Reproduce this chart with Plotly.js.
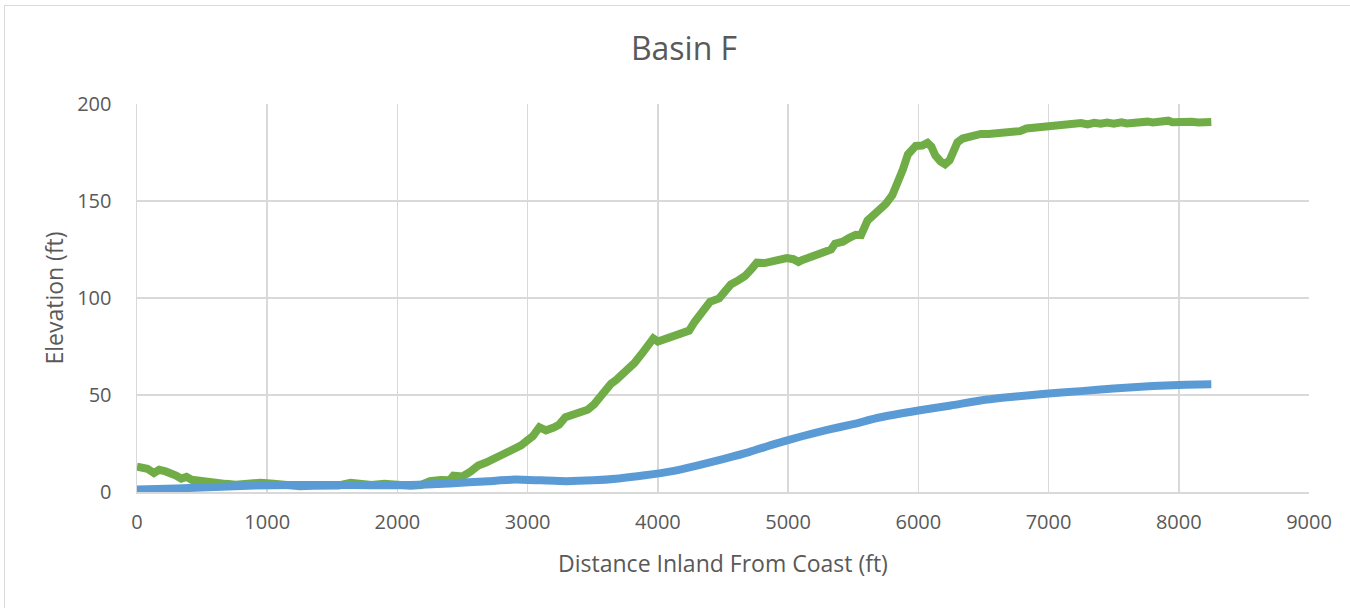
<!DOCTYPE html>
<html>
<head>
<meta charset="utf-8">
<script src="https://cdn.plot.ly/plotly-3.0.1.min.js"></script>
<style>
  html, body { margin: 0; padding: 0; background: #fff; overflow: hidden; }
  #chart { width: 1350px; height: 608px; }
  #frame { position: absolute; left: 4px; top: 5px; width: 1400px; height: 700px;
           border-left: 1px solid #D9D9D9; border-top: 1px solid #D9D9D9; pointer-events: none; }
</style>
</head>
<body>
<div id="chart"></div>
<div id="frame"></div>
<script>
const chartTitle = "Basin F";
const xTitle = "Distance Inland From Coast (ft)";
const yTitle = "Elevation (ft)";

const xTickVals = [0, 1000, 2000, 3000, 4000, 5000, 6000, 7000, 8000, 9000];
const yTickVals = [0, 50, 100, 150, 200];

// Ground profile (green)
const groundX = [0,40,80,130,170,220,260,300,340,380,420,470,530,600,680,760,850,950,1050,1150,1250,1350,1450,1550,1640,1720,1800,1900,2000,2100,2180,2250,2330,2400,2430,2500,2560,2620,2680,2720,2780,2840,2900,2950,3000,3040,3090,3140,3200,3240,3290,3340,3410,3460,3510,3560,3600,3640,3680,3720,3770,3820,3870,3920,3965,4000,4060,4130,4200,4240,4280,4320,4360,4400,4470,4520,4560,4620,4670,4720,4760,4820,4870,4930,4990,5040,5080,5110,5160,5230,5280,5330,5360,5420,5470,5520,5560,5580,5610,5650,5700,5750,5800,5840,5880,5920,5940,5980,6030,6070,6100,6130,6170,6205,6240,6270,6300,6340,6400,6440,6480,6540,6600,6680,6740,6780,6830,6900,6980,7060,7100,7130,7200,7250,7300,7350,7400,7450,7500,7560,7600,7650,7700,7760,7800,7850,7880,7920,7950,8000,8050,8100,8150,8200,8250];
const groundY = [13.0,12.6,12.0,9.8,11.4,10.6,9.8,8.5,6.9,7.8,6.3,5.8,5.0,4.6,4.2,3.8,4.6,4.8,4.2,3.5,3.0,3.2,3.6,3.4,4.8,3.8,3.6,4.2,3.6,3.2,3.6,5.6,6.2,6.0,8.4,8.0,10.5,13.6,15.2,16.4,19.0,20.6,21.8,24.0,26.7,28.8,33.4,31.8,33.2,34.6,38.6,40.0,41.2,42.4,45.2,49.4,53.5,55.8,57.8,60.2,63.0,66.5,70.7,74.6,79.2,77.6,79.0,80.1,81.2,83.2,87.5,91.2,94.4,98.0,99.8,103.5,107.0,109.2,111.4,115.0,118.2,118.0,118.8,120.4,120.6,120.0,118.6,119.6,120.8,123.4,124.0,125.0,128.0,129.0,131.0,132.6,132.4,136.0,140.0,142.4,145.0,148.5,153.0,158.6,166.0,174.0,175.8,178.4,178.6,180.0,178.0,173.5,170.4,168.9,171.0,175.0,180.2,182.2,183.4,183.2,184.6,184.6,185.0,185.6,185.8,186.0,187.4,188.0,188.4,189.4,189.2,189.9,189.6,190.2,189.5,190.3,189.8,190.4,189.9,190.6,190.0,190.5,190.2,190.9,190.5,191.2,190.8,191.4,190.6,190.9,190.4,190.8,190.5,190.8,190.7,191.0];

// Second profile (blue)
const blueX = [0,300,600,900,1200,1500,1800,2100,2400,2700,2900,3100,3300,3500,3700,3900,4100,4300,4500,4700,4900,5100,5300,5500,5700,6000,6250,6500,6750,7000,7250,7500,7800,8000,8250];
const blueY = [1.3,1.8,2.6,3.4,3.6,3.6,3.5,3.6,4.4,5.6,6.4,6.0,5.6,6.0,7.0,8.6,10.6,13.6,17.0,20.6,24.8,28.6,32.0,35.0,38.4,42.0,44.6,47.4,49.2,50.8,52.0,53.3,54.6,55.2,55.5];

const fontFam = "'Open Sans', 'Noto Sans', sans-serif";
const textColor = "#595959";
const gridColor = "#D9D9D9";

const traces = [
  { x: groundX, y: groundY, type: "scatter", mode: "lines",
    line: { color: "#70AD47", width: 8, shape: "linear" }, hoverinfo: "x+y" },
  { x: blueX, y: blueY, type: "scatter", mode: "lines",
    line: { color: "#5B9BD5", width: 8, shape: "spline", smoothing: 0.6 }, hoverinfo: "x+y" }
];

const layout = {
  width: 1350, height: 608,
  paper_bgcolor: "#ffffff", plot_bgcolor: "#ffffff",
  margin: { l: 137, r: 41, t: 104, b: 116 },
  showlegend: false,
  font: { family: fontFam, color: textColor, size: 20 },
  title: { text: chartTitle, x: 684/1350, xanchor: "center", y: 1 - 49/608, yanchor: "middle",
           font: { family: fontFam, size: 32, color: textColor } },
  xaxis: {
    range: [0, 9000], tickvals: xTickVals, ticktext: xTickVals.map(String),
    showgrid: true, gridcolor: gridColor, gridwidth: 1.5,
    zeroline: false, showline: true, linecolor: gridColor, linewidth: 1.5,
    ticks: "", ticklabelstandoff: 11,
    tickfont: { family: fontFam, size: 20, color: textColor },
    title: { text: xTitle, standoff: 22, font: { family: fontFam, size: 23, color: textColor } },
    automargin: false, fixedrange: true
  },
  yaxis: {
    range: [0, 200], tickvals: yTickVals, ticktext: yTickVals.map(String),
    showgrid: true, gridcolor: gridColor, gridwidth: 1.5,
    zeroline: false, showline: true, linecolor: gridColor, linewidth: 1.5, mirror: false,
    ticks: "", ticklabelstandoff: 20,
    tickfont: { family: fontFam, size: 20, color: textColor },
    title: { text: yTitle, standoff: 7, font: { family: fontFam, size: 23, color: textColor } },
    automargin: false, fixedrange: true
  }
};

Plotly.newPlot("chart", traces, layout, { staticPlot: true, displayModeBar: false });
</script>
</body>
</html>
